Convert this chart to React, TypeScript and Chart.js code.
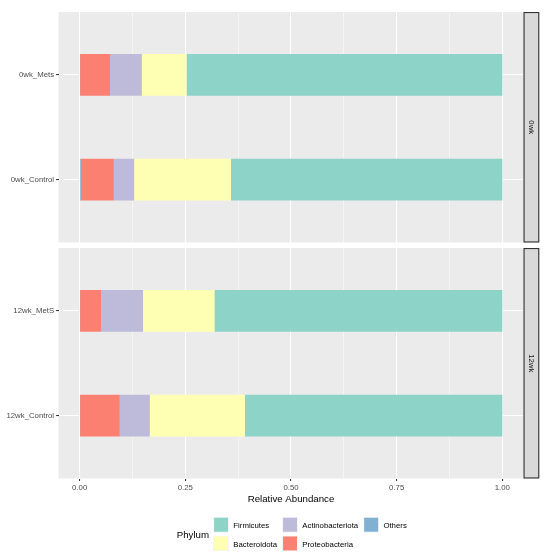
import React, { useEffect, useRef } from 'react';
import { Chart, registerables } from 'chart.js';

Chart.register(...registerables);

// ---------- data ----------
const panels = ['0wk', '12wk'];
const samples0wk = ['0wk_Mets', '0wk_Control'];
const samples12wk = ['12wk_MetS', '12wk_Control'];
// legend order (column-major)
const phylaLegend = ['Firmicutes', 'Bacteroidota', 'Actinobacteriota', 'Proteobacteria', 'Others'];
// stacking order, left to right
const phylaStack = ['Others', 'Proteobacteria', 'Actinobacteriota', 'Bacteroidota', 'Firmicutes'];

const firmicutes0wk = [0.747, 0.642];
const bacteroidota0wk = [0.106, 0.229];
const actinobacteriota0wk = [0.075, 0.048];
const proteobacteria0wk = [0.071, 0.078];
const others0wk = [0.001, 0.003];

const firmicutes12wk = [0.681, 0.609];
const bacteroidota12wk = [0.169, 0.225];
const actinobacteriota12wk = [0.099, 0.071];
const proteobacteria12wk = [0.05, 0.094];
const others12wk = [0.001, 0.001];

const xMajorTicks = [0, 0.25, 0.5, 0.75, 1];
const xMinorTicks = [0.125, 0.375, 0.625, 0.875];

// ---------- styles ----------
const phylumColors: Record<string, string> = {
  Firmicutes: '#8DD3C7',
  Bacteroidota: '#FFFFB3',
  Actinobacteriota: '#BEBADA',
  Proteobacteria: '#FB8072',
  Others: '#80B1D3',
};

const FONT = '"Liberation Sans", Arial, sans-serif';
const SMALL = 7.8;
const BIG = 9.7;
const AREA_TOP = 12;
const AREA_BOTTOM = 478.5;
const AREA_LEFT = 58.5;
const AREA_RIGHT = 523.5;
const PANEL_GAP = 5.5;
const STRIP_W = 15.8;
const axisH = (AREA_BOTTOM - AREA_TOP) / 2;
const panelH = axisH - PANEL_GAP / 2;
const GAP_UNITS = 2.2 * (axisH / panelH - 1);

const panelValues: Record<string, Record<string, number[]>> = {
  yTop: {
    Firmicutes: firmicutes0wk,
    Bacteroidota: bacteroidota0wk,
    Actinobacteriota: actinobacteriota0wk,
    Proteobacteria: proteobacteria0wk,
    Others: others0wk,
  },
  yBottom: {
    Firmicutes: firmicutes12wk,
    Bacteroidota: bacteroidota12wk,
    Actinobacteriota: actinobacteriota12wk,
    Proteobacteria: proteobacteria12wk,
    Others: others12wk,
  },
};

function buildDatasets() {
  const ds: any[] = [];
  for (const axis of ['yTop', 'yBottom']) {
    for (const p of phylaStack) {
      ds.push({
        label: p,
        yAxisID: axis,
        xAxisID: 'x',
        stack: axis,
        grouped: false,
        data: panelValues[axis][p].map((v, i) => ({ x: v, y: i + 1 })),
        backgroundColor: phylumColors[p],
        borderWidth: 0,
        barPercentage: 0.4,
        categoryPercentage: 1,
      });
    }
  }
  return ds;
}

const facetPlugin = {
  id: 'facet',
  beforeDraw(chart: any) {
    const ctx = chart.ctx;
    const { left, right } = chart.chartArea;
    ctx.save();
    for (const id of ['yTop', 'yBottom']) {
      const s = chart.scales[id];
      const t = s.getPixelForValue(0.4);
      const b = s.getPixelForValue(2.6);
      ctx.fillStyle = '#EBEBEB';
      ctx.fillRect(left, t, right - left, b - t);
    }
    ctx.restore();
  },
  afterDraw(chart: any) {
    const ctx = chart.ctx;
    const { left, right } = chart.chartArea;
    ctx.save();
    // strips
    ['yTop', 'yBottom'].forEach((id, k) => {
      const s = chart.scales[id];
      const t = s.getPixelForValue(0.4);
      const b = s.getPixelForValue(2.6);
      ctx.fillStyle = '#D9D9D9';
      ctx.fillRect(right, t, STRIP_W, b - t);
      ctx.strokeStyle = '#333333';
      ctx.lineWidth = 1.1;
      ctx.strokeRect(right + 0.55, t + 0.55, STRIP_W - 1.1, b - t - 1.1);
      ctx.save();
      ctx.translate(right + STRIP_W / 2, (t + b) / 2);
      ctx.rotate(Math.PI / 2);
      ctx.fillStyle = '#1A1A1A';
      ctx.font = `${SMALL}px ${FONT}`;
      ctx.textAlign = 'center';
      ctx.textBaseline = 'middle';
      ctx.fillText(panels[k], 0, 0);
      ctx.restore();
    });
    // x-axis title
    ctx.fillStyle = '#000000';
    ctx.font = `${BIG}px ${FONT}`;
    ctx.textAlign = 'center';
    ctx.textBaseline = 'alphabetic';
    ctx.fillText('Relative Abundance', (left + right) / 2, 501.5);
    // legend
    ctx.textAlign = 'left';
    ctx.fillText('Phylum', 176.7, 537.7);
    ctx.font = `${SMALL}px ${FONT}`;
    const keySize = 15.5;
    const rowTops = [517, 535.7];
    let keyX = 213.3;
    for (let c = 0; c < Math.ceil(phylaLegend.length / 2); c++) {
      const items = phylaLegend.slice(c * 2, c * 2 + 2);
      let maxW = 0;
      items.forEach((name, r) => {
        const top = rowTops[r];
        ctx.fillStyle = '#F2F2F2';
        ctx.fillRect(keyX, top, keySize, keySize);
        ctx.fillStyle = phylumColors[name];
        ctx.fillRect(keyX + 0.8, top + 0.8, keySize - 1.6, keySize - 1.6);
        ctx.fillStyle = '#000000';
        ctx.fillText(name, keyX + keySize + 4.5, top + 11.3);
        maxW = Math.max(maxW, ctx.measureText(name).width);
      });
      keyX = keyX + keySize + 4.5 + maxW + 5.2;
    }
    ctx.restore();
  },
};

function yAxis(labels: string[], min: number, max: number, weight: number) {
  return {
    type: 'linear',
    position: 'left',
    stack: 'panels',
    stackWeight: 1,
    weight,
    reverse: true,
    offset: false,
    stacked: true,
    min,
    max,
    afterBuildTicks: (s: any) => {
      s.ticks = labels.map((_, i) => ({ value: i + 1 }));
    },
    afterFit: (s: any) => {
      s.width = AREA_LEFT;
    },
    ticks: {
      autoSkip: false,
      padding: 2,
      color: '#4D4D4D',
      font: { family: FONT, size: SMALL },
      callback: (v: number) => labels[Math.round(v) - 1],
    },
    grid: {
      offset: false,
      color: '#FFFFFF',
      lineWidth: 1.07,
      tickLength: 2.4,
      tickColor: '#333333',
    },
    border: { display: false },
  };
}

export default function App() {
  const ref = useRef<HTMLCanvasElement>(null);
  useEffect(() => {
    if (!ref.current) return;
    const isMajor = (v: number) => xMajorTicks.some((m) => Math.abs(m - v) < 1e-9);
    const chart = new Chart(ref.current, {
      type: 'bar',
      data: { datasets: buildDatasets() },
      plugins: [facetPlugin],
      options: {
        indexAxis: 'y',
        responsive: false,
        animation: false,
        events: [],
        layout: { padding: { top: AREA_TOP, right: 550 - AREA_RIGHT, bottom: 0, left: 0 } },
        plugins: { legend: { display: false }, tooltip: { enabled: false } },
        scales: {
          x: {
            type: 'linear',
            min: -0.05,
            max: 1.05,
            stacked: true,
            offset: false,
            afterBuildTicks: (s: any) => {
              s.ticks = [...xMajorTicks, ...xMinorTicks].sort((a, b) => a - b).map((v) => ({ value: v }));
            },
            afterFit: (s: any) => {
              s.height = 558 - AREA_BOTTOM;
            },
            ticks: {
              autoSkip: false,
              maxRotation: 0,
              padding: 2.5,
              color: '#4D4D4D',
              font: { family: FONT, size: SMALL },
              callback: (v: number) => (isMajor(v) ? v.toFixed(2) : ''),
            },
            grid: {
              offset: false,
              color: '#FFFFFF',
              lineWidth: (c: any) => (isMajor(c.tick.value) ? 1.07 : 0.53),
              tickLength: 2.4,
              tickColor: (c: any) => (isMajor(c.tick.value) ? '#333333' : 'rgba(0,0,0,0)'),
            },
            border: { display: false },
          },
          yTop: yAxis(samples0wk, 0.4, 2.6 + GAP_UNITS, 2),
          yBottom: yAxis(samples12wk, 0.4 - GAP_UNITS, 2.6, 1),
        } as any,
      },
    } as any);
    return () => chart.destroy();
  }, []);
  return (
    <div style={{ position: 'absolute', left: 0, top: 0, width: 550, height: 558, background: '#FFFFFF' }}>
      <canvas ref={ref} width={550} height={558} style={{ width: 550, height: 558, display: 'block' }} />
    </div>
  );
}
